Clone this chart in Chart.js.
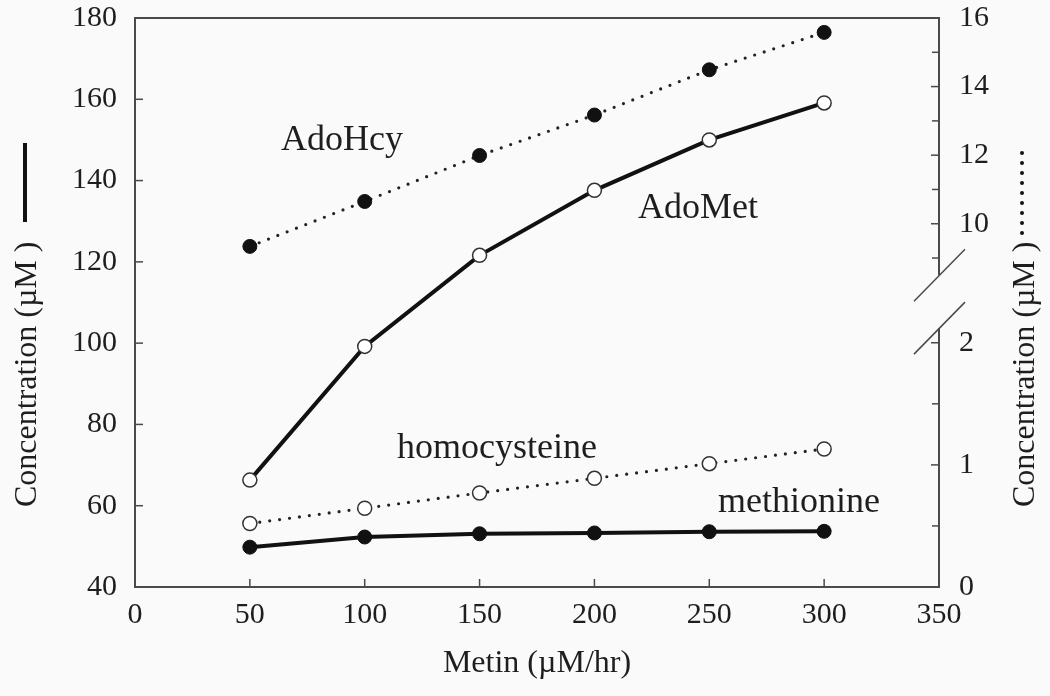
<!DOCTYPE html>
<html>
<head>
<meta charset="utf-8">
<script src="https://cdn.jsdelivr.net/npm/chart.js@4.4.1/dist/chart.umd.min.js"></script>
<style>
  html,body{margin:0;padding:0;background:#fafafa;}
  #wrap{width:1050px;height:696px;position:relative;}
</style>
</head>
<body>
<div id="wrap"><canvas id="cv"></canvas></div>
<script>
/* ---- datos ---- */
const metinRates   = [50, 100, 150, 200, 250, 300];
const adoMet       = [66.3, 99.2, 121.6, 137.6, 150.0, 159.1];   // eje izq.
const methionine   = [49.8, 52.3, 53.1, 53.3, 53.6, 53.7];       // eje izq.
const adoHcy       = [9.34, 10.65, 11.99, 13.17, 14.49, 15.58];  // eje der.
const homocysteine = [0.52, 0.645, 0.77, 0.89, 1.01, 1.13];      // eje der.

const xTickValues      = [0, 50, 100, 150, 200, 250, 300, 350];
const leftTickValues   = [40, 60, 80, 100, 120, 140, 160, 180];
const rightTickValues  = [0, 1, 2, 10, 12, 14, 16];
const rightMinorTicks  = [0.5, 1.5, 9, 11, 13, 15];

// eje derecho cortado: [valor, fracción de la altura]
const rightAxisKnots = [[0, 0], [2.12, 0.455], [8.5, 0.548], [16, 1]];
const breakLow = 2.12, breakHigh = 8.5;

const INK = '#1e1e1e', FRAME = '#4a4a4a';
const SERIF = "'Liberation Serif', 'DejaVu Serif', serif";

/* ---- escala lineal con corte ---- */
class BrokenScale extends Chart.LinearScale {
  _toDec(v){
    const k = rightAxisKnots;
    if (v <= k[0][0]) return k[0][1];
    for (let i = 1; i < k.length; i++) {
      if (v <= k[i][0]) {
        const [v0,f0] = k[i-1], [v1,f1] = k[i];
        return f0 + (v - v0) / (v1 - v0) * (f1 - f0);
      }
    }
    return k[k.length-1][1];
  }
  getPixelForValue(v){
    return v === null || v === undefined ? NaN : this.getPixelForDecimal(this._toDec(v));
  }
  getValueForPixel(p){
    const d = this.getDecimalForPixel(p), k = rightAxisKnots;
    for (let i = 1; i < k.length; i++) {
      if (d <= k[i][1]) {
        const [v0,f0] = k[i-1], [v1,f1] = k[i];
        return v0 + (d - f0) / (f1 - f0) * (v1 - v0);
      }
    }
    return k[k.length-1][0];
  }
  buildTicks(){
    return rightTickValues.map(v => ({value: v}));
  }
}
BrokenScale.id = 'broken';
BrokenScale.defaults = {};
Chart.register(BrokenScale);

const pts = arr => metinRates.map((x,i) => ({x, y: arr[i]}));

// anchos fijos de las cajas de los ejes
const fitBox = (w, h) => s => {
  if (w !== null) s.width = w;
  if (h !== null) s.height = h;
  s.paddingTop = 0; s.paddingBottom = 0; s.paddingLeft = 0; s.paddingRight = 0;
};

/* ---- marco, ticks hacia adentro, títulos ---- */
const framePlugin = {
  id: 'frame',
  beforeDatasetsDraw(chart){
    const {ctx, chartArea: a, scales: {x, y, y2}} = chart;
    ctx.save();
    ctx.strokeStyle = FRAME;
    ctx.lineWidth = 2;
    ctx.lineCap = 'butt';
    const seg = (x0,y0,x1,y1) => {ctx.beginPath();ctx.moveTo(x0,y0);ctx.lineTo(x1,y1);ctx.stroke();};
    // borde superior
    seg(a.left - 1, a.top, a.right + 1, a.top);
    // eje derecho con corte
    const yHi = y2.getPixelForValue(breakHigh), yLo = y2.getPixelForValue(breakLow);
    seg(a.right, a.top, a.right, yHi);
    seg(a.right, yLo, a.right, a.bottom + 1);
    ctx.lineWidth = 1.5;
    [yHi, yLo].forEach(yb => seg(a.right - 25, yb + 26, a.right + 26, yb - 26));
    // ticks
    ctx.lineWidth = 1.5;
    x.ticks.forEach(t => { if (t.value > 0 && t.value < 350) { const px = x.getPixelForValue(t.value); seg(px, a.bottom, px, a.bottom - 8); } });
    y.ticks.forEach(t => { if (t.value > 40 && t.value < 180) { const py = y.getPixelForValue(t.value); seg(a.left, py, a.left + 8, py); } });
    y2.ticks.forEach(t => { if (t.value > 0 && t.value < 16) { const py = y2.getPixelForValue(t.value); seg(a.right, py, a.right - 8, py); } });
    rightMinorTicks.forEach(v => { const py = y2.getPixelForValue(v); seg(a.right, py, a.right - 7, py); });
    ctx.restore();
  },
  afterDraw(chart){
    const {ctx} = chart;
    ctx.save();
    ctx.fillStyle = INK;
    // rótulos de las curvas
    ctx.font = '36px ' + SERIF;
    ctx.textAlign = 'left';
    ctx.textBaseline = 'alphabetic';
    ctx.fillText('AdoHcy', 281, 150);
    ctx.fillText('AdoMet', 638, 218);
    ctx.fillText('homocysteine', 397, 458);
    ctx.fillText('methionine', 718, 512);
    // títulos de los ejes verticales
    ctx.font = '32px ' + SERIF;
    ctx.textBaseline = 'middle';
    [[28, 507], [1026, 507]].forEach(([tx, ty]) => {
      ctx.save(); ctx.translate(tx, ty); ctx.rotate(-Math.PI/2);
      ctx.fillText('Concentration (\u00b5M )', 0, 0);
      ctx.restore();
    });
    // muestra de estilo de línea
    ctx.strokeStyle = '#111';
    ctx.lineWidth = 4;
    ctx.beginPath(); ctx.moveTo(25, 143); ctx.lineTo(25, 222); ctx.stroke();
    ctx.lineCap = 'round';
    ctx.setLineDash([0, 10]);
    ctx.beginPath(); ctx.moveTo(1022, 153); ctx.lineTo(1022, 234); ctx.stroke();
    ctx.restore();
  }
};

const solid = {borderColor: '#111', borderWidth: 4, pointRadius: 7, pointHoverRadius: 7, tension: 0};
const dotted = {borderColor: '#222', borderWidth: 3.2, borderDash: [0, 10], borderCapStyle: 'round', pointRadius: 7, pointHoverRadius: 7, tension: 0};
const openPt = {pointBackgroundColor: '#fff', pointBorderColor: '#333', pointBorderWidth: 1.5};
const filledPt = {pointBackgroundColor: '#111', pointBorderColor: '#111', pointBorderWidth: 1};

new Chart(document.getElementById('cv'), {
  type: 'line',
  data: {
    datasets: [
      {label: 'AdoHcy', data: pts(adoHcy), yAxisID: 'y2', ...dotted, ...filledPt},
      {label: 'homocysteine', data: pts(homocysteine), yAxisID: 'y2', ...dotted, ...openPt},
      {label: 'methionine', data: pts(methionine), yAxisID: 'y', ...solid, ...filledPt},
      {label: 'AdoMet', data: pts(adoMet), yAxisID: 'y', ...solid, ...openPt}
    ]
  },
  options: {
    responsive: true,
    maintainAspectRatio: false,
    animation: false,
    layout: {padding: {top: 18, left: 0, right: 0, bottom: 0}},
    plugins: {legend: {display: false}, tooltip: {enabled: false}},
    font: {family: SERIF},
    scales: {
      x: {
        type: 'linear', min: 0, max: 350,
        afterBuildTicks: s => { s.ticks = xTickValues.map(v => ({value: v})); },
        grid: {display: false, drawTicks: false},
        border: {display: true, color: FRAME, width: 2},
        ticks: {color: INK, font: {family: SERIF, size: 30}, padding: 10, autoSkip: false, maxRotation: 0},
        title: {display: true, text: 'Metin (\u00b5M/hr)', color: INK, font: {family: SERIF, size: 32}, padding: {top: 0, bottom: 13}},
        afterFit: fitBox(null, 109)
      },
      y: {
        position: 'left', min: 40, max: 180,
        afterBuildTicks: s => { s.ticks = leftTickValues.map(v => ({value: v})); },
        grid: {display: false, drawTicks: false},
        border: {display: true, color: FRAME, width: 2},
        ticks: {color: INK, font: {family: SERIF, size: 30}, padding: 18, autoSkip: false},
        afterFit: fitBox(135, null)
      },
      y2: {
        type: 'broken', position: 'right', min: 0, max: 16,
        grid: {display: false, drawTicks: false},
        border: {display: false},
        ticks: {color: INK, font: {family: SERIF, size: 30}, padding: 20, autoSkip: false, callback: v => String(v)},
        afterFit: fitBox(111, null)
      }
    }
  },
  plugins: [framePlugin]
});
</script>
</body>
</html>
